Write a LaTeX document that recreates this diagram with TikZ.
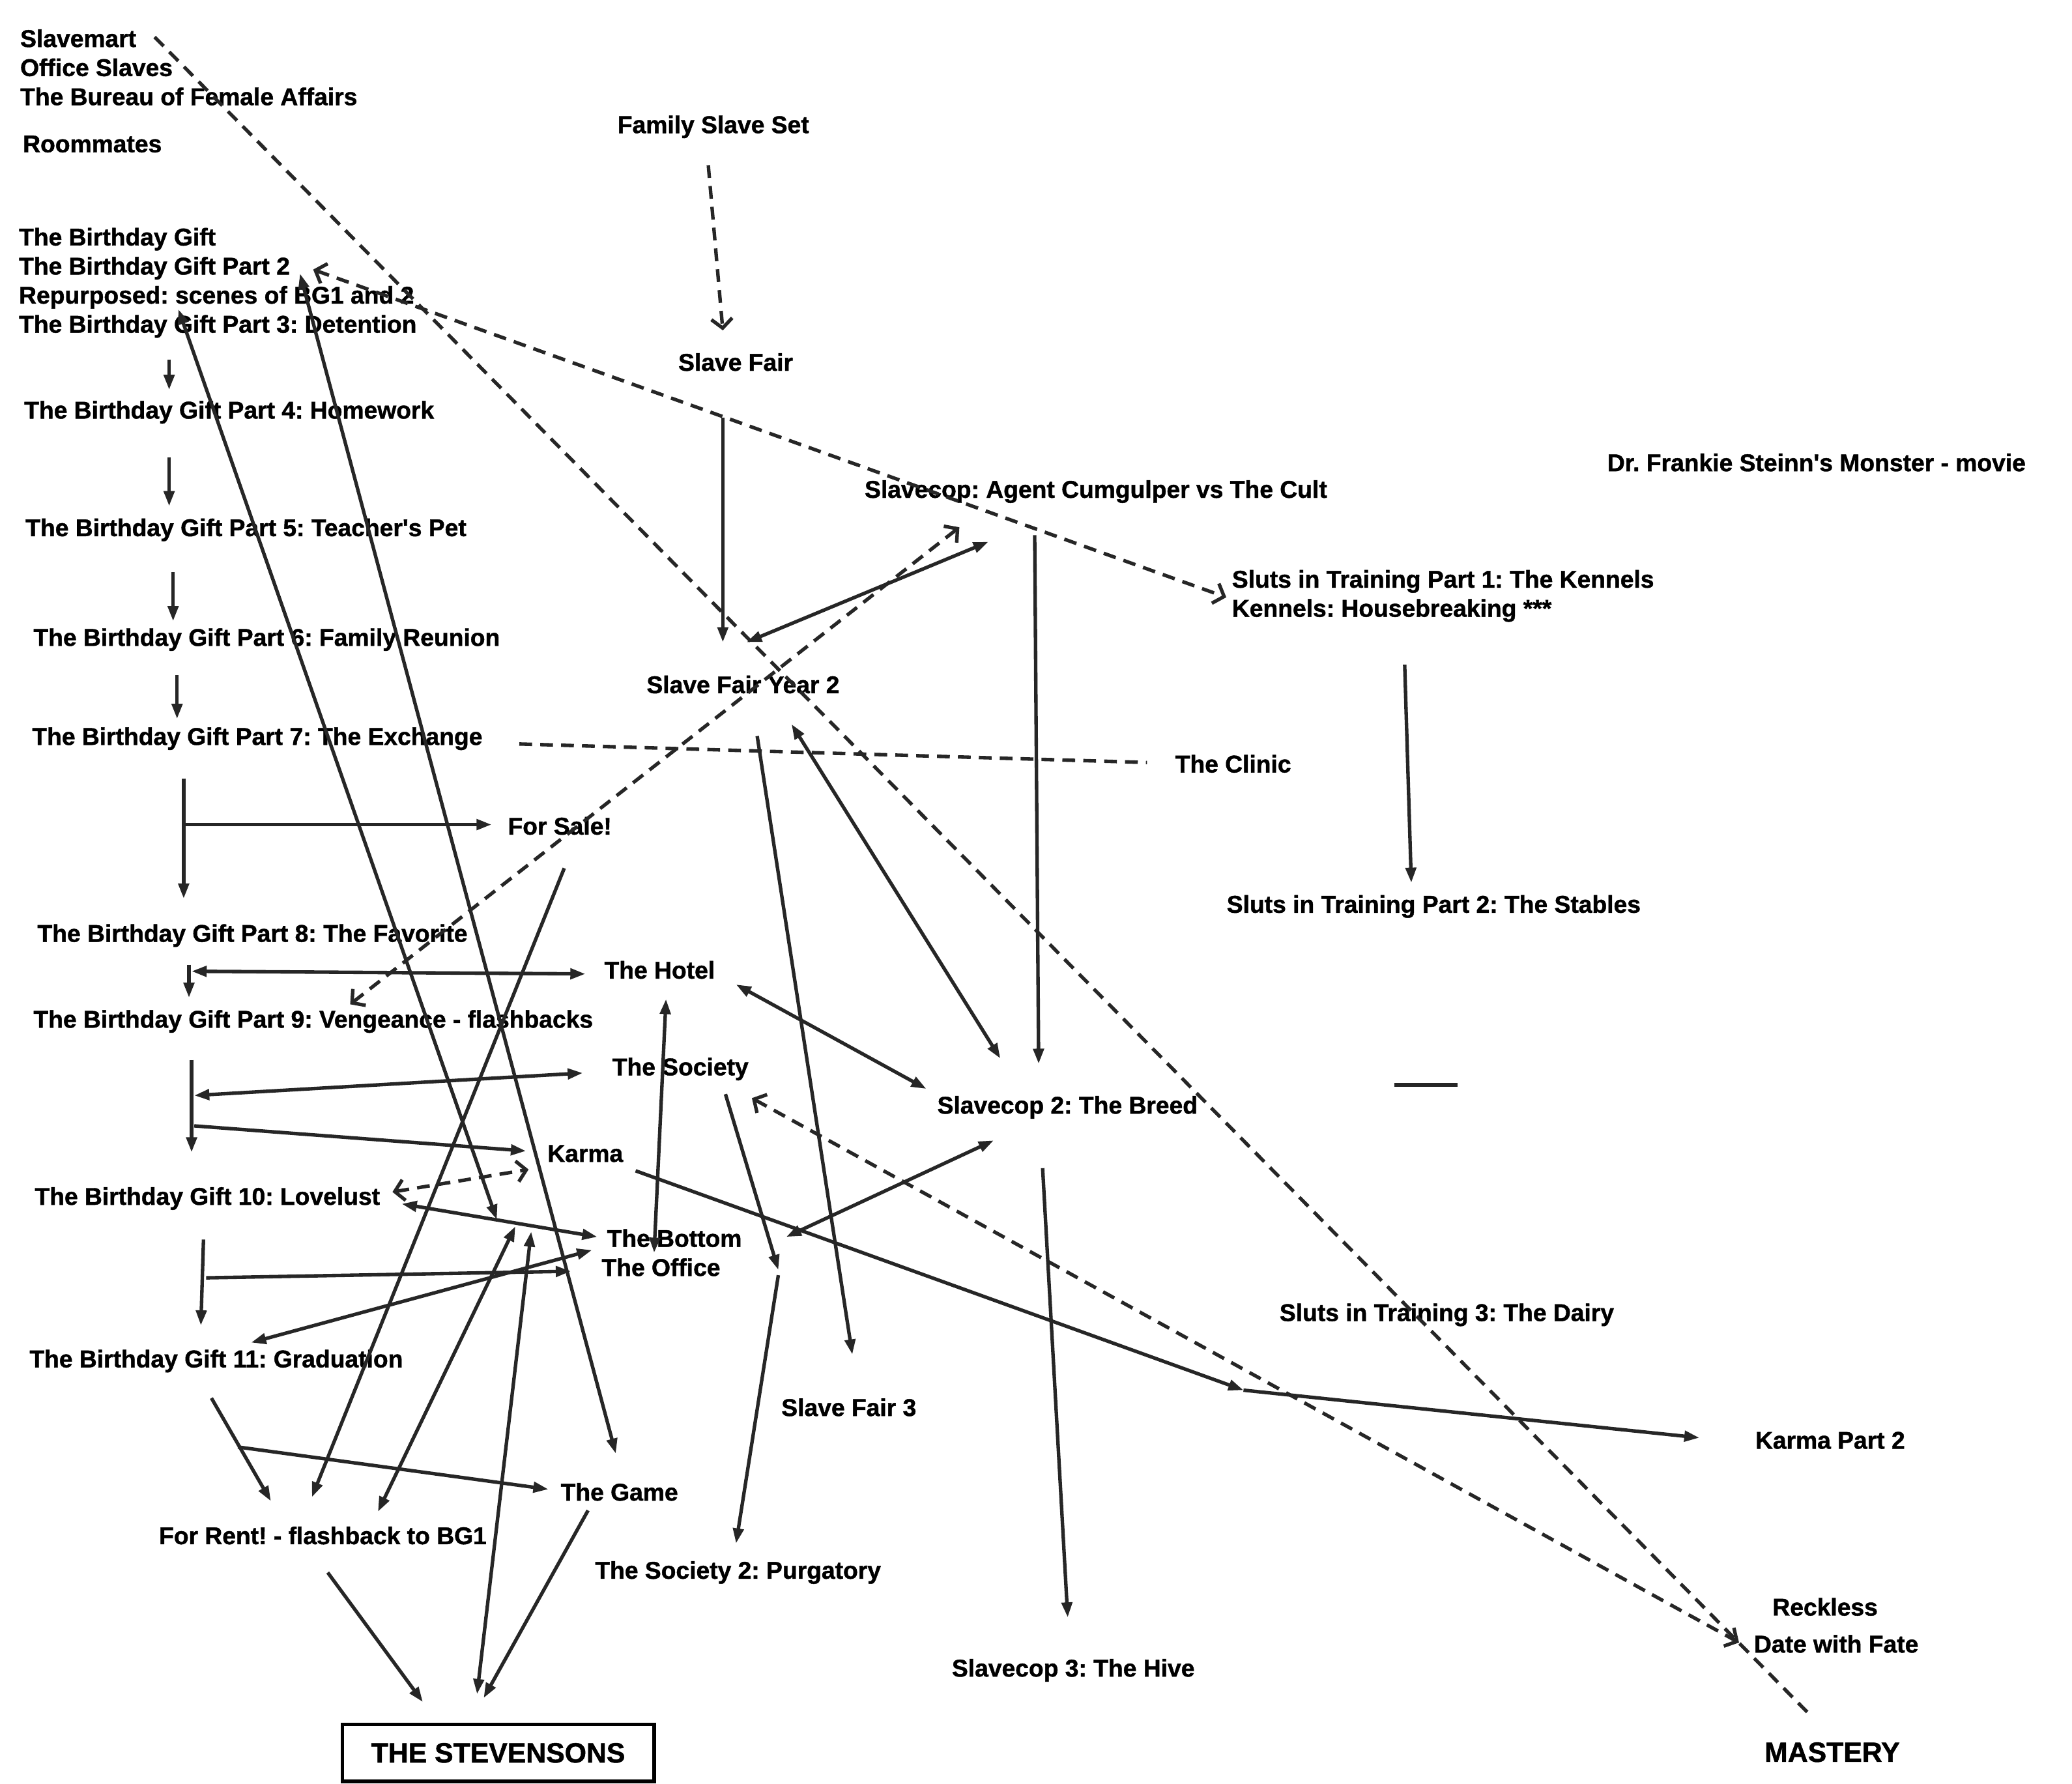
\documentclass[tikz,border=0pt]{standalone}
\usepackage{fontspec}
\setmainfont{Liberation Sans}[Ligatures=TeXOff, BoldFeatures={FakeBold=1.2}]
\usetikzlibrary{arrows.meta}
\frenchspacing

\newcommand{\storyfont}{\fontsize{10.45}{12}\selectfont\bfseries}
\newcommand{\bigstoryfont}{\fontsize{12}{14}\selectfont\bfseries}

\tikzset{
  story/.style={font=\storyfont, anchor=west, inner sep=0pt},
  link/.style={line width=1.5pt, draw=black!85},
  onew/.style={link, -{Triangle[length=6.5pt,width=4.5pt]}},
  twow/.style={link, {Triangle[length=6.5pt,width=4.5pt]}-{Triangle[length=6.5pt,width=4.5pt]}},
  dashlink/.style={link, dash pattern=on 5.5pt off 3.5pt},
  dashtwo/.style={dashlink, {Straight Barb[length=4pt,width=9pt]}-{Straight Barb[length=4pt,width=9pt]}},
  dashone/.style={dashlink, -{Straight Barb[length=4pt,width=9pt]}}
}

\begin{document}
\begin{tikzpicture}[x=0.02cm, y=-0.02cm]
    \useasboundingbox (0,0) rectangle (1568,1350);
        %draw titles, left column
    \node[story] (slavemart) at (15,29) {Slavemart};
    \node[story] (officeslaves) at (15,51) {Office Slaves};
    \node[story] (bureau) at (15,73) {The Bureau of Female Affairs};
    \node[story] (roommates) at (17,109) {Roommates};
    \node[story] (bgone) at (14,181) {The Birthday Gift};
    \node[story] (bgtwo) at (14,203) {The Birthday Gift Part 2};
    \node[story] (repurposed) at (14,225) {Repurposed: scenes of BG1 and 2};
    \node[story] (bgthree) at (14,247) {The Birthday Gift Part 3: Detention};
    \node[story] (bgfour) at (18,312) {The Birthday Gift Part 4: Homework};
    \node[story] (bgfive) at (19,401) {The Birthday Gift Part 5: Teacher's Pet};
    \node[story] (bgsix) at (25,484) {The Birthday Gift Part 6: Family Reunion};
    \node[story] (bgseven) at (24,559) {The Birthday Gift Part 7: The Exchange};
    \node[story] (bgeight) at (28,708) {The Birthday Gift Part 8: The Favorite};
    \node[story] (bgnine) at (25,773) {The Birthday Gift Part 9: Vengeance - flashbacks};
    \node[story] (bgten) at (26,907) {The Birthday Gift 10: Lovelust};
    \node[story] (bgeleven) at (22,1030) {The Birthday Gift 11: Graduation};
    \node[story] (forrent) at (120,1162) {For Rent! - flashback to BG1};
    \node[draw, line width=1.5pt, minimum width=4.72cm, minimum height=0.86cm,
          font=\bigstoryfont] (stevensons) at (377,1326.5) {THE STEVENSONS};
        %draw titles, middle
    \node[story] (forsale) at (384,625) {For Sale!};
    \node[story] (hotel) at (457,734) {The Hotel};
    \node[story] (society) at (463,809) {The Society};
    \node[story] (karma) at (414,873) {Karma};
    \node[story] (bottom) at (459,937) {The Bottom};
    \node[story] (office) at (455,959) {The Office};
    \node[story] (game) at (424,1129) {The Game};
    \node[story] (familyset) at (467,96) {Family Slave Set};
    \node[story] (slavefair) at (513,274) {Slave Fair};
    \node[story] (fairtwo) at (489,518) {Slave Fair Year 2};
    \node[story] (fairthree) at (591,1065) {Slave Fair 3};
    \node[story] (societytwo) at (450,1190) {The Society 2: Purgatory};
    \node[story] (slavecop) at (654,372) {Slavecop: Agent Cumgulper vs The Cult};
    \node[story] (slavecoptwo) at (709,838) {Slavecop 2: The Breed};
    \node[story] (slavecopthree) at (720,1264) {Slavecop 3: The Hive};
        %draw titles, right
    \node[story] (frankie) at (1216,350) {Dr. Frankie Steinn's Monster - movie};
    \node[story] (slutsone) at (932,440) {Sluts in Training Part 1: The Kennels};
    \node[story] (housebreak) at (932,462) {Kennels: Housebreaking ***};
    \node[story] (clinic) at (889,578) {The Clinic};
    \node[story] (slutstwo) at (928,686) {Sluts in Training Part 2: The Stables};
    \node[story] (slutsthree) at (968,995) {Sluts in Training 3: The Dairy};
    \node[story] (karmatwo) at (1328,1090) {Karma Part 2};
    \node[story] (reckless) at (1341,1216) {Reckless};
    \node[story] (datefate) at (1327,1244) {Date with Fate};
    \node[story, font=\bigstoryfont] (mastery) at (1335,1326) {MASTERY};

        %%%%%%%%%%%%%%%%%%%%%%%%%%%%%%%%%%%
        %%%end points
        %%%%%%%%%%%%%%%%%%%%%%%%%%%%%%%%%%%
    \coordinate (bgthree-o) at (128,272);  \coordinate (bgfour-i) at (128,295);
    \coordinate (bgfour-o) at (128,346);   \coordinate (bgfive-i) at (128,383);
    \coordinate (bgfive-o) at (131,433);   \coordinate (bgsix-i) at (131,470);
    \coordinate (bgsix-o) at (134,511);    \coordinate (bgseven-i) at (134,544);
    \coordinate (bgseven-o) at (139,589);  \coordinate (bgeight-i) at (139,680);
    \coordinate (bgseven-b) at (139,624);  \coordinate (forsale-i) at (372,624);
    \coordinate (bgeight-o) at (143,730);  \coordinate (bgnine-i) at (143,755);
    \coordinate (bgeight-b) at (145,735);  \coordinate (hotel-w) at (443,737);
    \coordinate (bgnine-o) at (145,802);   \coordinate (bgten-i) at (145,872);
    \coordinate (bgnine-b) at (147,829);   \coordinate (society-w) at (441,812);
    \coordinate (bgnine-c) at (147,852);   \coordinate (karma-w) at (398,871);
    \coordinate (bgten-o) at (154,938);    \coordinate (bgeleven-i) at (152,1003);
    \coordinate (bgten-b) at (156,967);    \coordinate (office-w) at (432,962);
    \coordinate (bgten-e) at (304,911);    \coordinate (bottom-w) at (452,936);
    \coordinate (bgten-d) at (297,902);    \coordinate (karma-d) at (400,885);
    \coordinate (bgeleven-n) at (190,1016); \coordinate (office-n) at (448,946);
    \coordinate (bgeleven-o) at (160,1058); \coordinate (forrent-a) at (205,1136);
    \coordinate (bgeleven-b) at (180,1095); \coordinate (game-w) at (415,1127);
    \coordinate (forrent-o) at (248,1190); \coordinate (stevensons-a) at (320,1288);
    \coordinate (game-o) at (445,1143);    \coordinate (stevensons-c) at (366,1285);
    \coordinate (karma-s) at (402,932);    \coordinate (stevensons-b) at (361,1282);
    \coordinate (karma-t) at (390,928);    \coordinate (forrent-c) at (286,1144);
    \coordinate (forsale-o) at (427,657);  \coordinate (forrent-b) at (236,1133);
    \coordinate (bgtwo-e) at (227,207);    \coordinate (game-n) at (466,1100);
    \coordinate (repurposed-s) at (135,234); \coordinate (karma-n) at (376,923);
    \coordinate (hotel-s) at (504,756);    \coordinate (office-e) at (495,948);
    \coordinate (hotel-e) at (557,745);    \coordinate (slavecoptwo-w) at (701,824);
    \coordinate (society-s) at (549,828);  \coordinate (bottom-e) at (589,961);
    \coordinate (bottom-f) at (589,965);   \coordinate (societytwo-n) at (557,1168);
    \coordinate (fairtwo-s) at (573,557);  \coordinate (fairthree-n) at (645,1025);
    \coordinate (fairtwo-e) at (599,548);  \coordinate (slavecoptwo-n) at (757,801);
    \coordinate (slavecoptwo-s) at (752,863); \coordinate (bottom-g) at (595,936);
    \coordinate (slavecoptwo-o) at (789,884); \coordinate (slavecopthree-n) at (808,1224);
    \coordinate (karma-e) at (481,886);    \coordinate (slutsthree-s) at (941,1052);
    \coordinate (karmatwo-w) at (1286,1088);
    \coordinate (slavefair-o) at (547,316); \coordinate (fairtwo-i) at (547,486);
    \coordinate (fairtwo-n) at (565,486);  \coordinate (slavecop-s) at (748,410);
    \coordinate (slavecop-o) at (783,405); \coordinate (slavecoptwo-i) at (786,805);
    \coordinate (housebreak-o) at (1063,503); \coordinate (slutstwo-i) at (1068,668);
    \coordinate (familyset-o) at (536,125); \coordinate (slavefair-i) at (547,250);
    \coordinate (slavemart-e) at (117,28); \coordinate (mastery-n) at (1370,1298);
    \coordinate (bgtwo-d) at (237,204);    \coordinate (slutsone-w) at (928,452);
    \coordinate (bgnine-d) at (265,760);   \coordinate (slavecop-d) at (726,399);
    \coordinate (bgseven-e) at (393,563);  \coordinate (clinic-w) at (868,577);
    \coordinate (society-d) at (569,831);  \coordinate (datefate-w) at (1316,1243);
    \coordinate (dash-a) at (1055,821);    \coordinate (dash-b) at (1103,821);

        %%%%%%%%%%%%%%%%%%%%%%%%%%%%%%%%%%%
        %%%Birthday Gift chain
        %%%%%%%%%%%%%%%%%%%%%%%%%%%%%%%%%%%
    \draw[onew] (bgthree-o) -- (bgfour-i);
    \draw[onew] (bgfour-o) -- (bgfive-i);
    \draw[onew] (bgfive-o) -- (bgsix-i);
    \draw[onew] (bgsix-o) -- (bgseven-i);
    \draw[onew] (bgseven-o) -- (bgeight-i);
    \draw[onew] (bgseven-b) -- (forsale-i);
    \draw[onew] (bgeight-o) -- (bgnine-i);
    \draw[twow] (bgeight-b) -- (hotel-w);
    \draw[onew] (bgnine-o) -- (bgten-i);
    \draw[twow] (bgnine-b) -- (society-w);
    \draw[onew] (bgnine-c) -- (karma-w);
    \draw[onew] (bgten-o) -- (bgeleven-i);
    \draw[onew] (bgten-b) -- (office-w);
    \draw[twow] (bgten-e) -- (bottom-w);
    \draw[dashtwo] (bgten-d) -- (karma-d);
    \draw[twow] (bgeleven-n) -- (office-n);
    \draw[onew] (bgeleven-o) -- (forrent-a);
    \draw[onew] (bgeleven-b) -- (game-w);
        %draw lines into the Stevensons
    \draw[onew] (forrent-o) -- (stevensons-a);
    \draw[onew] (game-o) -- (stevensons-c);
    \draw[twow] (karma-s) -- (stevensons-b);
    \draw[twow] (karma-t) -- (forrent-c);
    \draw[onew] (forsale-o) -- (forrent-b);
    \draw[twow] (bgtwo-e) -- (game-n);
    \draw[twow] (repurposed-s) -- (karma-n);

        %%%%%%%%%%%%%%%%%%%%%%%%%%%%%%%%%%%
        %%%Hotel, Society, Slave Fair, Slavecop
        %%%%%%%%%%%%%%%%%%%%%%%%%%%%%%%%%%%
    \draw[twow] (hotel-s) -- (office-e);
    \draw[twow] (hotel-e) -- (slavecoptwo-w);
    \draw[onew] (society-s) -- (bottom-e);
    \draw[onew] (bottom-f) -- (societytwo-n);
    \draw[onew] (fairtwo-s) -- (fairthree-n);
    \draw[twow] (fairtwo-e) -- (slavecoptwo-n);
    \draw[twow] (slavecoptwo-s) -- (bottom-g);
    \draw[onew] (slavecoptwo-o) -- (slavecopthree-n);
    \draw[onew] (karma-e) -- (slutsthree-s);
    \draw[onew] (slutsthree-s) -- (karmatwo-w);
    \draw[onew] (slavefair-o) -- (fairtwo-i);
    \draw[twow] (fairtwo-n) -- (slavecop-s);
    \draw[onew] (slavecop-o) -- (slavecoptwo-i);
    \draw[onew] (housebreak-o) -- (slutstwo-i);
    \draw[link] (dash-a) -- (dash-b);

        %%%%%%%%%%%%%%%%%%%%%%%%%%%%%%%%%%%
        %%%dashed links
        %%%%%%%%%%%%%%%%%%%%%%%%%%%%%%%%%%%
    \draw[dashone] (familyset-o) -- (slavefair-i);
    \draw[dashlink] (slavemart-e) -- (mastery-n);
    \draw[dashtwo] (bgtwo-d) -- (slutsone-w);
    \draw[dashtwo] (bgnine-d) -- (slavecop-d);
    \draw[dashlink] (bgseven-e) -- (clinic-w);
    \draw[dashtwo] (society-d) -- (datefate-w);
\end{tikzpicture}
\end{document}
